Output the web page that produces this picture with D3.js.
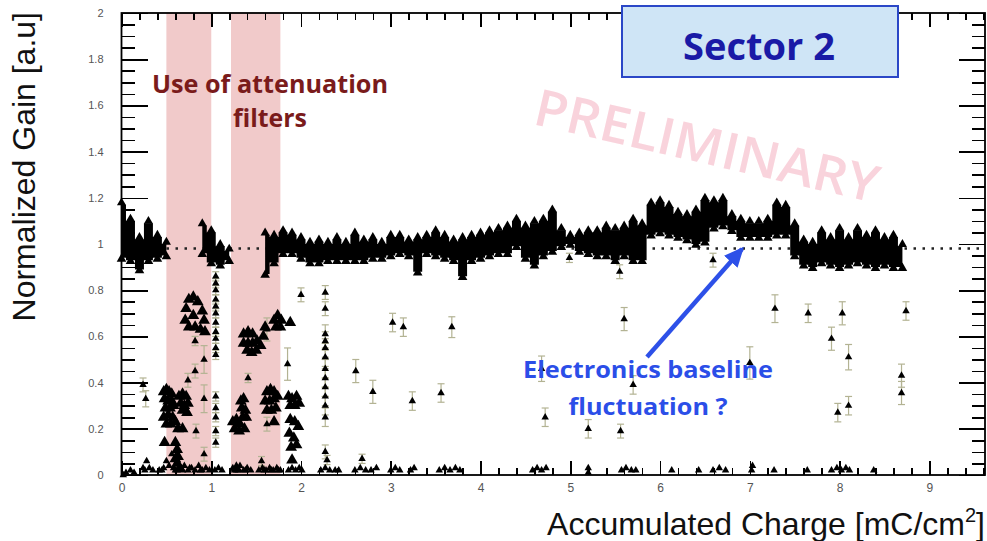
<!DOCTYPE html>
<html>
<head>
<meta charset="utf-8">
<script src="https://cdn.jsdelivr.net/npm/d3@7"></script>
<style>
  body { margin: 0; background: #fff; }
  svg { display: block; }
  .tick text { font-family: "Liberation Sans", Arial, sans-serif; fill: #555; }
  .tick line { stroke: #000; stroke-width: 1.6; shape-rendering: crispEdges; }
</style>
</head>
<body>
<div id="chart"></div>
<script>
// ---- data ----

// main gain band near 1 (upper / lower envelope, null = no data)
let bandX = [0.0, 0.1, 0.2, 0.3, 0.4, 0.5, 0.6, 0.7, 0.8, 0.9,
    1.0, 1.1, 1.2, 1.3, 1.4, 1.5, 1.6, 1.7, 1.8, 1.9,
    2.0, 2.1, 2.2, 2.3, 2.4, 2.5, 2.6, 2.7, 2.8, 2.9,
    3.0, 3.1, 3.2, 3.3, 3.4, 3.5, 3.6, 3.7, 3.8, 3.9,
    4.0, 4.1, 4.2, 4.3, 4.4, 4.5, 4.6, 4.7, 4.8, 4.9,
    5.0, 5.1, 5.2, 5.3, 5.4, 5.5, 5.6, 5.7, 5.8, 5.9,
    6.0, 6.1, 6.2, 6.3, 6.4, 6.5, 6.6, 6.7, 6.8, 6.9,
    7.0, 7.1, 7.2, 7.3, 7.4, 7.5, 7.6, 7.7, 7.8, 7.9,
    8.0, 8.1, 8.2, 8.3, 8.4, 8.5, 8.6, 8.7];
let bandHi = [1.17, 1.10, 1.02, 1.09, 1.03, 1.00, null, null, null, 1.08,
    1.05, 0.99, 0.97, null, null, null, 1.04, 1.03, 1.05, 1.04,
    1.02, 1.00, 1.01, 1.00, 1.02, 1.00, 1.04, 1.01, 1.02, 1.00,
    1.03, 1.03, 1.01, 1.02, 1.03, 1.05, 1.03, 1.01, 1.02, 1.03,
    1.04, 1.05, 1.06, 1.07, 1.10, 1.07, 1.09, 1.10, 1.14, 1.06,
    1.03, 1.04, 1.05, 1.05, 1.07, 1.06, 1.07, 1.10, 1.08, 1.17,
    1.18, 1.16, 1.13, 1.12, 1.14, 1.19, 1.18, 1.19, 1.12, 1.10,
    1.09, 1.09, 1.10, 1.17, 1.16, 1.08, 1.01, 1.00, 1.05, 1.02,
    1.06, 1.02, 1.06, 1.03, 1.05, 1.02, 1.03, 0.99];
let bandLo = [0.94, 0.93, 0.89, 0.93, 0.94, 0.95, null, null, null, 0.96,
    0.92, 0.91, 0.93, null, null, null, 0.87, 0.92, 0.96, 0.96,
    0.94, 0.92, 0.92, 0.93, 0.93, 0.93, 0.93, 0.93, 0.94, 0.94,
    0.95, 0.96, 0.95, 0.88, 0.96, 0.95, 0.94, 0.93, 0.86, 0.93,
    0.94, 0.95, 0.96, 0.96, 0.99, 0.94, 0.91, 0.95, 0.97, 0.99,
    1.00, 0.97, 0.96, 0.95, 0.95, 0.93, 0.95, 0.93, 0.93, 1.04,
    1.05, 1.04, 1.03, 1.02, 1.00, 1.01, 1.07, 1.08, 1.06, 1.03,
    1.03, 1.03, 1.03, 1.04, 1.04, 0.95, 0.91, 0.90, 0.92, 0.91,
    0.90, 0.91, 0.92, 0.91, 0.90, 0.91, 0.90, 0.90];

// isolated points with error bars [x, gain, err]
let errPoints = [
    [0.24, 0.39, 0.03], [0.27, 0.33, 0.035],
    [0.74, 0.41, 0.03], [0.82, 0.45, 0.03], [0.92, 0.50, 0.06], [0.92, 0.33, 0.06],
    [0.83, 0.19, 0.03], [0.92, 0.09, 0.03], [0.82, 0.58, 0.02],
    [1.05, 0.86, 0.02], [1.05, 0.83, 0.02], [1.05, 0.80, 0.02], [1.05, 0.76, 0.02],
    [1.05, 0.73, 0.02], [1.05, 0.70, 0.02], [1.05, 0.66, 0.02], [1.05, 0.62, 0.02],
    [1.05, 0.59, 0.02], [1.05, 0.55, 0.02], [1.05, 0.52, 0.02], [1.05, 0.34, 0.02],
    [1.05, 0.29, 0.02], [1.05, 0.25, 0.02], [1.05, 0.19, 0.02], [1.05, 0.14, 0.02],
    [1.41, 0.42, 0.02], [1.62, 0.63, 0.05], [1.62, 0.22, 0.03], [1.56, 0.06, 0.02],
    [1.85, 0.48, 0.07], [2.00, 0.78, 0.03],
    [2.27, 0.79, 0.03], [2.27, 0.72, 0.03], [2.27, 0.61, 0.04], [2.27, 0.58, 0.04],
    [2.27, 0.55, 0.04], [2.27, 0.51, 0.04], [2.27, 0.46, 0.04], [2.27, 0.42, 0.04],
    [2.27, 0.38, 0.04], [2.27, 0.34, 0.04], [2.27, 0.30, 0.04], [2.27, 0.25, 0.04],
    [2.27, 0.10, 0.03], [2.29, 0.065, 0.02],
    [2.61, 0.45, 0.05], [2.80, 0.36, 0.05], [2.68, 0.07, 0.02], [3.02, 0.66, 0.04],
    [3.14, 0.64, 0.04], [3.24, 0.32, 0.04], [3.56, 0.355, 0.04], [3.68, 0.64, 0.045],
    [4.68, 0.46, 0.055], [4.72, 0.25, 0.04], [4.99, 0.94, 0.02], [5.20, 0.20, 0.04],
    [5.55, 0.88, 0.03], [5.60, 0.675, 0.05], [5.70, 0.39, 0.04], [5.56, 0.19, 0.03],
    [6.59, 0.93, 0.03], [7.00, 0.485, 0.07], [7.28, 0.72, 0.06], [7.65, 0.70, 0.04],
    [8.03, 0.70, 0.05], [7.91, 0.59, 0.05], [8.10, 0.51, 0.055], [7.98, 0.27, 0.04],
    [8.10, 0.30, 0.04], [8.74, 0.71, 0.04], [8.69, 0.43, 0.05], [8.69, 0.355, 0.05]
];

// dense clusters during attenuation filter runs [x, gain]
let clusterPoints = [
    [0.47, 0.36], [0.50, 0.37], [0.53, 0.36], [0.56, 0.35], [0.48, 0.33], [0.52, 0.32],
    [0.56, 0.32], [0.49, 0.29], [0.54, 0.29], [0.58, 0.30], [0.64, 0.34], [0.68, 0.35],
    [0.72, 0.34], [0.66, 0.31], [0.70, 0.30], [0.74, 0.31], [0.68, 0.28], [0.73, 0.27],
    [0.47, 0.25], [0.52, 0.26], [0.57, 0.25], [0.50, 0.22], [0.55, 0.22], [0.60, 0.23],
    [0.63, 0.20], [0.68, 0.20],
    [0.75, 0.76], [0.80, 0.77], [0.85, 0.75], [0.72, 0.72], [0.90, 0.71], [0.71, 0.67],
    [0.92, 0.67], [0.75, 0.64], [0.82, 0.64], [0.88, 0.63], [0.93, 0.62], [0.80, 0.69],
    [0.60, 0.14], [0.62, 0.11], [0.63, 0.08], [0.62, 0.05], [0.65, 0.03], [0.60, 0.07],
    [0.48, 0.14],
    [1.36, 0.61], [1.41, 0.62], [1.46, 0.61], [1.36, 0.57], [1.41, 0.57], [1.46, 0.57],
    [1.51, 0.58], [1.40, 0.54], [1.45, 0.53], [1.50, 0.54], [1.55, 0.56], [1.58, 0.60],
    [1.60, 0.64],
    [1.33, 0.32], [1.36, 0.33], [1.34, 0.29], [1.38, 0.28], [1.35, 0.25], [1.39, 0.25],
    [1.24, 0.23], [1.28, 0.24], [1.32, 0.22], [1.26, 0.20], [1.31, 0.19], [1.37, 0.20],
    [1.62, 0.36], [1.66, 0.37], [1.70, 0.36], [1.60, 0.32], [1.65, 0.32], [1.70, 0.33],
    [1.74, 0.34], [1.62, 0.28], [1.67, 0.28], [1.72, 0.29], [1.70, 0.23], [1.28, 0.03],
    [1.70, 0.67], [1.74, 0.69], [1.78, 0.67], [1.72, 0.64], [1.77, 0.64],
    [1.88, 0.66],
    [1.86, 0.34], [1.90, 0.33], [1.95, 0.34], [1.88, 0.30], [1.93, 0.30], [1.98, 0.31],
    [1.88, 0.24], [1.93, 0.23], [1.97, 0.21], [1.87, 0.18], [1.92, 0.16], [1.89, 0.12],
    [1.95, 0.13], [1.90, 0.065]
];

// points sitting on the baseline (no signal)
let basePoints = [
    [0.02, 0.00], [0.05, 0.01], [0.10, 0.02], [0.14, 0.01], [0.24, 0.03], [0.28, 0.06],
    [0.31, 0.03], [0.35, 0.02], [0.42, 0.02], [0.47, 0.03], [0.50, 0.06], [0.53, 0.04],
    [0.56, 0.09], [0.58, 0.03], [0.62, 0.02], [0.66, 0.03], [0.70, 0.04], [0.74, 0.02],
    [0.78, 0.03], [0.82, 0.02], [0.86, 0.04], [0.90, 0.02], [0.94, 0.03], [0.98, 0.02],
    [1.04, 0.02], [1.08, 0.03], [1.12, 0.02], [1.24, 0.03], [1.28, 0.02], [1.32, 0.04],
    [1.36, 0.02], [1.40, 0.03], [1.44, 0.02], [1.53, 0.02], [1.57, 0.03], [1.61, 0.02],
    [1.65, 0.03], [1.69, 0.02], [1.73, 0.03], [1.77, 0.02], [1.86, 0.02], [1.90, 0.03],
    [1.94, 0.02], [1.98, 0.03], [2.01, 0.02],
    [0.26, 0.02], [0.45, 0.02], [0.60, 0.02], [0.68, 0.02], [0.76, 0.03], [0.88, 0.02],
    [1.26, 0.02], [1.30, 0.02], [1.38, 0.02], [1.59, 0.02], [1.67, 0.02], [1.75, 0.02],
    [2.22, 0.02], [2.27, 0.03], [2.32, 0.02], [2.38, 0.02], [2.42, 0.02],
    [2.60, 0.02], [2.66, 0.03], [2.72, 0.02], [2.78, 0.02], [2.84, 0.03],
    [3.00, 0.02], [3.05, 0.03], [3.10, 0.02], [3.22, 0.02], [3.26, 0.03],
    [3.54, 0.02], [3.60, 0.03], [3.66, 0.02], [3.72, 0.03], [3.77, 0.02],
    [4.58, 0.02], [4.63, 0.03], [4.68, 0.02], [4.73, 0.03],
    [5.20, 0.03], [5.20, 0.01],
    [5.57, 0.02], [5.62, 0.03], [5.68, 0.02], [5.73, 0.02],
    [6.13, 0.02], [6.43, 0.02], [6.59, 0.02], [6.66, 0.03], [6.73, 0.02],
    [7.02, 0.02], [7.03, 0.04], [7.27, 0.02], [7.64, 0.02],
    [7.91, 0.02], [7.97, 0.03], [8.02, 0.02], [8.07, 0.03], [8.11, 0.02], [8.38, 0.02]
];

// attenuation filter periods [from, to]
let filterRanges = [[0.50, 1.00], [1.22, 1.77]];
let referenceGain = 0.98;

let xTicks = [0, 1, 2, 3, 4, 5, 6, 7, 8, 9];
let yTicks = [0, 0.2, 0.4, 0.6, 0.8, 1, 1.2, 1.4, 1.6, 1.8, 2];

// ---- layout ----
let margin = {top: 13, right: 2, bottom: 66, left: 121.5};
let width = 987 - margin.left - margin.right;
let height = 541 - margin.top - margin.bottom;

let root = d3.select("#chart").append("svg")
    .attr("width", 987)
    .attr("height", 541);

let svg = root.append("g")
    .attr("transform", "translate(" + margin.left + "," + margin.top + ")");

let x = d3.scaleLinear().domain([0, 9.62]).range([0, width]);
let y = d3.scaleLinear().domain([0, 2]).range([height, 0]);

// filter bands
svg.selectAll(".filter")
    .data(filterRanges)
    .enter().append("rect")
    .attr("x", d => x(d[0]))
    .attr("width", d => x(d[1]) - x(d[0]))
    .attr("y", 0)
    .attr("height", height)
    .attr("fill", "#f1caca");

// watermark
root.append("text")
    .attr("transform", "translate(706,150) rotate(13)")
    .attr("text-anchor", "middle")
    .attr("dominant-baseline", "middle")
    .attr("font-family", "'Open Sans', Lato, sans-serif")
    .attr("font-weight", 600)
    .attr("font-size", 51)
    .attr("textLength", 352)
    .attr("lengthAdjust", "spacingAndGlyphs")
    .attr("fill", "#f9d3dc")
    .text("PRELIMINARY");

// reference line
svg.append("line")
    .attr("x1", x(0)).attr("x2", x(9.62))
    .attr("y1", y(referenceGain)).attr("y2", y(referenceGain))
    .attr("stroke", "#222")
    .attr("stroke-width", 2.5)
    .attr("stroke-dasharray", "2.5,6.5");

// main band
let band = bandX.map((v, i) => ({x: v, hi: bandHi[i], lo: bandLo[i]}));

let area = d3.area()
    .defined(d => d.hi != null)
    .curve(d3.curveStep)
    .x(d => x(d.x))
    .y0(d => y(d.lo))
    .y1(d => y(d.hi));

svg.append("path")
    .datum(band)
    .attr("d", area)
    .attr("fill", "#000");

let tri = d3.symbol().type(d3.symbolTriangle);

svg.selectAll(".band-top")
    .data(band.filter(d => d.hi != null))
    .enter().append("path")
    .attr("transform", d => "translate(" + x(d.x) + "," + (y(d.hi) - 2) + ")")
    .attr("d", tri.size(36)())
    .attr("fill", "#000");

svg.selectAll(".band-bot")
    .data(band.filter(d => d.lo != null))
    .enter().append("path")
    .attr("transform", d => "translate(" + x(d.x) + "," + (y(d.lo) + 1) + ")")
    .attr("d", tri.size(40)())
    .attr("fill", "#000");

// error bars
let bars = svg.selectAll(".err")
    .data(errPoints)
    .enter().append("g")
    .attr("stroke", "#b3b393")
    .attr("stroke-width", 1.2);

bars.append("line")
    .attr("x1", d => x(d[0])).attr("x2", d => x(d[0]))
    .attr("y1", d => y(d[1] - d[2])).attr("y2", d => y(d[1] + d[2]));
bars.append("line")
    .attr("x1", d => x(d[0]) - 3.5).attr("x2", d => x(d[0]) + 3.5)
    .attr("y1", d => y(d[1] - d[2])).attr("y2", d => y(d[1] - d[2]));
bars.append("line")
    .attr("x1", d => x(d[0]) - 3.5).attr("x2", d => x(d[0]) + 3.5)
    .attr("y1", d => y(d[1] + d[2])).attr("y2", d => y(d[1] + d[2]));

// markers
svg.selectAll(".pt")
    .data(errPoints.concat(basePoints))
    .enter().append("path")
    .attr("transform", d => "translate(" + x(d[0]) + "," + y(d[1]) + ")")
    .attr("d", tri.size(24)())
    .attr("fill", "#000");

svg.selectAll(".cl")
    .data(clusterPoints)
    .enter().append("path")
    .attr("transform", d => "translate(" + x(d[0]) + "," + y(d[1]) + ")")
    .attr("d", tri.size(60)())
    .attr("fill", "#000");

// axes (ticks point inwards, ROOT style)
let xMinor = d3.range(0, 9.61, 0.2);
let yMinor = d3.range(0, 2.001, 0.05);

function drawAxis(axis, tx, ty) {
    let g = svg.append("g")
        .attr("transform", "translate(" + tx + "," + ty + ")")
        .call(axis);
    g.select(".domain").remove();
    return g;
}

drawAxis(d3.axisBottom(x).tickValues(xMinor).tickSize(-7).tickFormat(""), 0, height);
drawAxis(d3.axisBottom(x).tickValues(xTicks).tickSize(-14).tickPadding(8)
    .tickFormat(d3.format("d")), 0, height)
    .selectAll("text").attr("font-size", 12);
drawAxis(d3.axisTop(x).tickValues(xMinor).tickSize(-7).tickFormat(""), 0, 0);
drawAxis(d3.axisTop(x).tickValues(xTicks).tickSize(-14).tickFormat(""), 0, 0);

drawAxis(d3.axisLeft(y).tickValues(yMinor).tickSize(-13).tickFormat(""), 0, 0);
drawAxis(d3.axisLeft(y).tickValues(yTicks).tickSize(-26).tickPadding(18)
    .tickFormat(d3.format("~g")), 0, 0)
    .selectAll("text").attr("font-size", 11);
drawAxis(d3.axisRight(y).tickValues(yMinor).tickSize(-13).tickFormat(""), width, 0);
drawAxis(d3.axisRight(y).tickValues(yTicks).tickSize(-26).tickFormat(""), width, 0);

svg.append("rect")
    .attr("width", width)
    .attr("height", height)
    .attr("fill", "none")
    .attr("stroke", "#000")
    .attr("stroke-width", 1.8);

// axis titles
root.append("text")
    .attr("transform", "translate(35,12) rotate(-90)")
    .attr("text-anchor", "end")
    .attr("font-family", "'Liberation Sans', Arial, sans-serif")
    .attr("font-size", 32)
    .attr("fill", "#111")
    .text("Normalized Gain [a.u]");

let xt = root.append("text")
    .attr("x", 985)
    .attr("y", 535)
    .attr("text-anchor", "end")
    .attr("font-family", "'Liberation Sans', Arial, sans-serif")
    .attr("font-size", 32)
    .attr("fill", "#111");
xt.append("tspan").text("Accumulated Charge [mC/cm");
xt.append("tspan").attr("dy", -13).attr("font-size", 20).text("2");
xt.append("tspan").attr("dy", 13).text("]");

// sector label box
root.append("rect")
    .attr("x", 622).attr("y", 6)
    .attr("width", 276).attr("height", 71)
    .attr("fill", "#cfe5f6")
    .attr("stroke", "#2b47c7")
    .attr("stroke-width", 2);
root.append("text")
    .attr("x", 759).attr("y", 60)
    .attr("text-anchor", "middle")
    .attr("font-family", "'Open Sans', Lato, sans-serif")
    .attr("font-weight", 700)
    .attr("font-size", 38)
    .attr("textLength", 152)
    .attr("lengthAdjust", "spacingAndGlyphs")
    .attr("fill", "#1a1aa6")
    .text("Sector 2");

// annotations
let note = root.append("g")
    .attr("font-family", "'Open Sans', Lato, sans-serif")
    .attr("font-weight", 700)
    .attr("text-anchor", "middle");

function label(text, cx, by, size, len, colour) {
    note.append("text")
        .attr("x", cx).attr("y", by)
        .attr("font-size", size)
        .attr("textLength", len)
        .attr("lengthAdjust", "spacingAndGlyphs")
        .attr("fill", colour)
        .text(text);
}

label("Use of attenuation", 270, 93, 25, 236, "#7a1b1b");
label("filters", 270, 127, 25, 74, "#7a1b1b");
label("Electronics baseline", 648, 378, 24, 250, "#2b4ee8");
label("fluctuation ?", 648, 415, 24, 159, "#2b4ee8");

root.append("defs").append("marker")
    .attr("id", "head")
    .attr("markerUnits", "userSpaceOnUse")
    .attr("viewBox", "0 0 20 18")
    .attr("markerWidth", 20)
    .attr("markerHeight", 18)
    .attr("refX", 17)
    .attr("refY", 9)
    .attr("orient", "auto")
    .append("path")
    .attr("d", "M0,0 L20,9 L0,18 Z")
    .attr("fill", "#2d50e8");

root.append("line")
    .attr("x1", 647).attr("y1", 357)
    .attr("x2", 742).attr("y2", 249)
    .attr("stroke", "#2d50e8")
    .attr("stroke-width", 4.5)
    .attr("marker-end", "url(#head)");
</script>
</body>
</html>
